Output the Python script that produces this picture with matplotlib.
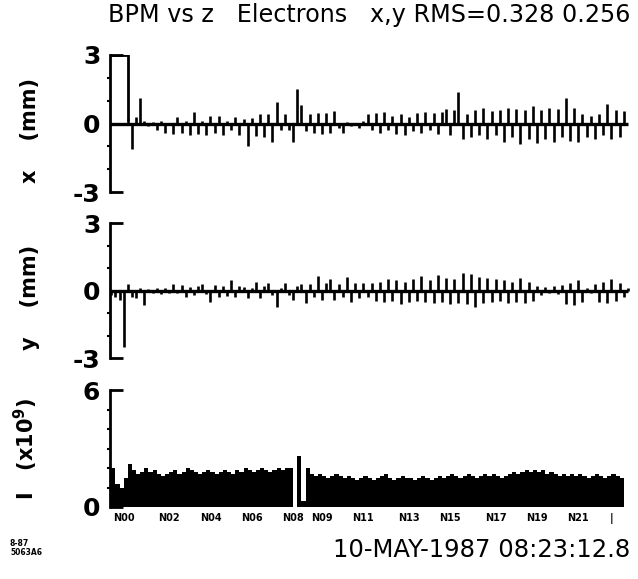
import numpy as np
import matplotlib
matplotlib.use("Agg")
import matplotlib.pyplot as plt
from matplotlib.ticker import MultipleLocator, FixedLocator

# BPM readings (mm), one value per BPM along z
x_mm = [3.0, 3.0, 3.0, 3.0, 0.2, -1.1, 0.3, 1.1,
        0.1, -0.1, 0.05, -0.3, 0.1, -0.4, 0.0, -0.45, 0.3, -0.4, 0.1, -0.5,
        0.5, -0.45, 0.1, -0.5, 0.35, -0.4, 0.35, -0.5, 0.1, -0.3, 0.3, -0.5,
        0.2, -1.0, 0.25, -0.55, 0.4, -0.6, 0.4, -0.8, 0.95, -0.3, 0.4, -0.3,
        -0.8, 1.5, 0.8, -0.35, 0.4, -0.4, 0.45, -0.45, 0.45, -0.4, 0.55, -0.2,
        -0.4, 0.05, -0.1, 0.0, -0.2, 0.1, 0.4,
        -0.3, 0.45, -0.4, 0.5, -0.3, 0.35, -0.45, 0.4, -0.5, 0.3, -0.35, 0.45,
        -0.4, 0.5, -0.3, 0.45, -0.45, 0.5,
        0.65, -0.5, 0.6, 1.4, -0.7, 0.4, -0.6, 0.6, -0.5, 0.7, -0.7, 0.55, -0.5,
        0.6, -0.8, 0.7, -0.6, 0.65, -0.9, 0.6, -0.7, 0.75, -0.85,
        0.6, -0.7, 0.7, -0.8, 0.65, -0.6, 1.1, -0.75, 0.7, -0.8,
        0.4, -0.6, 0.35, -0.7, 0.4, -0.5, 0.85, -0.7, 0.6, -0.6, 0.55, 0.0]

y_mm = [-0.2, -0.3, -0.4, -2.5, 0.3, -0.3, -0.35, 0.1,
        -0.65, 0.05, -0.1, 0.1, -0.15, 0.1, -0.1, 0.3, -0.1, 0.25, -0.3, 0.15,
        -0.2, 0.2, 0.3, -0.15, -0.5, 0.25, -0.3, 0.2, -0.25, 0.45, -0.3, 0.2,
        0.15, -0.35, 0.1, 0.4, -0.35, 0.2, 0.35, -0.2, -0.75, 0.1, 0.35, -0.2,
        -0.4, 0.2, 0.3, -0.55, 0.3, -0.3, 0.65, -0.4, 0.35, 0.5, -0.4, 0.3,
        -0.3, 0.6, -0.5, 0.35, -0.35, 0.35, -0.3,
        0.35, -0.45, 0.4, -0.5, 0.5, -0.45, 0.45, -0.6, 0.4, -0.5, 0.5, -0.45,
        0.65, -0.5, 0.45, -0.55, 0.7, -0.5, 0.55, -0.6, 0.5, -0.55, 0.8, -0.6,
        0.75, -0.75, 0.6, -0.55, 0.55, -0.5, 0.5, -0.45,
        0.45, -0.55, 0.4, -0.5, 0.55, -0.55, 0.4, -0.45, 0.2, -0.2, 0.15, -0.1,
        0.2, -0.15, 0.25, -0.6, 0.35, -0.65, 0.45, -0.5, 0.1, -0.1, 0.3, -0.5,
        0.4, -0.55, 0.5, -0.45, 0.35, -0.3, 0.1]

# beam intensity (x10^9)
current = [2.0, 1.2, 1.0, 1.5,
           2.2, 1.9, 1.7, 1.8, 2.0, 1.8, 1.9, 1.7, 1.6, 1.7, 1.8, 1.9, 1.7, 1.8,
           2.0, 1.9, 1.8, 1.7, 1.8, 1.9, 1.8, 1.7, 1.8, 1.9, 1.8, 1.7, 1.9, 1.8,
           2.0, 1.9, 1.8, 1.9, 2.0, 1.9, 1.8, 1.9, 2.0, 1.9, 2.0,
           2.0, 0.0, 2.6, 0.3, 2.0,
           1.7, 1.6, 1.7, 1.6, 1.5, 1.6, 1.7, 1.6, 1.5, 1.6, 1.5, 1.4, 1.5, 1.6,
           1.5, 1.4, 1.5, 1.6, 1.7, 1.5, 1.4, 1.5, 1.6, 1.5, 1.5, 1.4, 1.5, 1.6,
           1.5, 1.4, 1.5, 1.6, 1.5, 1.6, 1.7, 1.6, 1.5, 1.6, 1.7, 1.6, 1.5, 1.6,
           1.7, 1.6, 1.7, 1.6, 1.5, 1.6, 1.7, 1.8, 1.7, 1.8, 1.9, 1.8, 1.9, 1.8,
           1.9, 1.7, 1.8, 1.7, 1.6, 1.7, 1.6, 1.7, 1.6, 1.7, 1.6, 1.5, 1.6, 1.7,
           1.6, 1.5, 1.6, 1.7, 1.6, 1.5]

sector_pos = [3, 14, 24, 34, 44, 51, 61, 72, 82, 93, 103, 113, 121]
sector_lbl = ["N00", "N02", "N04", "N06", "N08", "N09", "N11", "N13",
              "N15", "N17", "N19", "N21", "|"]

W, H = 638, 579
fig = plt.figure(figsize=(W / 100, H / 100), dpi=100)
plt.rcParams['font.family'] = 'DejaVu Sans'

left = 110 / W
width = 520 / W
nmax = 125.5
SAT = 3.0   # scale limit, readings at the limit are drawn as a flat top

def panel(top_px, bot_px):
    return fig.add_axes([left, 1 - bot_px / H, width, (bot_px - top_px) / H])

def style(ax, lim, step, label, ly):
    for s in ['top', 'right', 'bottom']:
        ax.spines[s].set_visible(False)
    ax.spines['left'].set_linewidth(2)
    ax.set_xlim(-0.3, nmax)
    ax.set_ylim(lim[0], lim[1])
    ax.yaxis.set_major_locator(FixedLocator([lim[0], lim[1], 0] if lim[0] < 0 else [lim[0], lim[1]]))
    ax.yaxis.set_minor_locator(MultipleLocator(step))
    ax.tick_params(axis='y', which='major', direction='in', length=9, width=2,
                   labelsize=18, pad=7)
    ax.tick_params(axis='y', which='minor', direction='out', length=2, width=1.5)
    ax.set_yticklabels([str(v) for v in ax.get_yticks()], fontweight='bold')
    ax.set_ylabel(label, fontsize=15, fontweight='bold')
    ax.yaxis.set_label_coords(-0.135, ly)

def spikes(ax, vals):
    vals = np.asarray(vals)
    idx = np.arange(len(vals))
    ok = np.abs(vals) < SAT
    ax.plot(idx, np.zeros(len(vals)), color='black', lw=2.4, solid_capstyle='butt')
    ax.vlines(idx[ok], 0, vals[ok], color='black', lw=1.9)
    sat = np.where(~ok)[0]
    if len(sat):
        seg = np.arange(sat[0], sat[-1] + 2)
        ax.plot(seg, vals[seg], color='black', lw=2.0, drawstyle='steps-post')

# x panel (first BPMs saturated at +3)
ax1 = panel(55, 192)
spikes(ax1, x_mm)
style(ax1, (-3, 3), 1, "x    (mm)", 0.45)
ax1.set_xticks([])

# y panel
ax2 = panel(223, 358)
spikes(ax2, y_mm)
style(ax2, (-3, 3), 1, "y    (mm)", 0.45)
ax2.set_xticks([])

# intensity panel
ax3 = panel(390, 507)
ax3.bar(np.arange(len(current)), current, width=1.0, color='black', align='edge')
style(ax3, (0, 6), 1, "I   (x10$^\\mathbf{9}$)", 0.5)
ax3.set_xticks(sector_pos)
ax3.set_xticklabels(sector_lbl, fontsize=7, fontweight='bold')
ax3.tick_params(axis='x', length=0, pad=4)

fig.text(0.578, 0.974, "BPM vs z   Electrons   x,y RMS=0.328 0.256",
         ha='center', va='center', fontsize=17.2)
fig.text(630 / W, 1 - 550 / H, "10-MAY-1987 08:23:12.8",
         ha='right', va='center', fontsize=17.5)
fig.text(10 / W, 1 - 548 / H, "8-87\n5063A6", ha='left', va='center',
         fontsize=5.5, fontweight='bold', linespacing=1.0)

fig.savefig("out.png", dpi=100)
